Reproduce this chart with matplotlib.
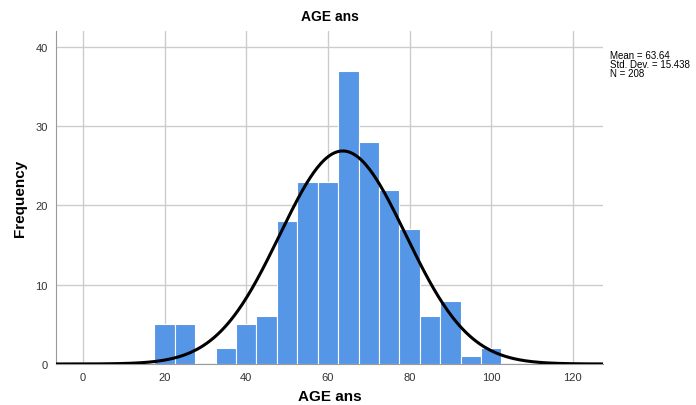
import numpy as np
import matplotlib.pyplot as plt

# histogram of AGE ans (bin width 5)
bin_edges = np.arange(17.5, 103, 5)
counts = [5, 5, 0, 2, 5, 6, 18, 23, 23, 37, 28, 22, 17, 6, 8, 1, 2]
mean = 63.64
std = 15.438
n = 208

plt.rc('font', family='Liberation Sans')

fig = plt.figure(figsize=(6.96, 4.06), dpi=100)
ax = fig.add_axes([0.0805, 0.101, 0.786, 0.82])

ax.bar(bin_edges[:-1], counts, width=5, align='edge', color='#5596e6',
       edgecolor='white', linewidth=0.8, zorder=2)

xs = np.linspace(-10, 130, 500)
pdf = n * 5 * np.exp(-0.5 * ((xs - mean) / std) ** 2) / (std * np.sqrt(2 * np.pi))
ax.plot(xs, pdf, color='black', linewidth=2.2, zorder=3)

ax.set_xlim(-6.6, 127.4)
ax.set_ylim(0, 42)
ax.set_xticks(np.arange(0, 121, 20))
ax.set_yticks(np.arange(0, 41, 10))
ax.grid(True, color='#cccccc', linewidth=1, zorder=0)
ax.set_axisbelow(True)
for s in ['top', 'right']:
    ax.spines[s].set_visible(False)
ax.spines['left'].set_color('#999999')
ax.spines['bottom'].set_color('#999999')
ax.tick_params(length=0, labelsize=8, colors='#333333', pad=6)

ax.set_title('AGE ans', fontsize=10, fontweight='bold', pad=8)
ax.set_xlabel('AGE ans', fontsize=11, fontweight='bold', labelpad=5)
ax.set_ylabel('Frequency', fontsize=11, fontweight='bold', labelpad=6)

fig.text(0.876, 0.875, 'Mean = 63.64\nStd. Dev. = 15.438\nN = 208',
         fontsize=7, va='top', ha='left', linespacing=0.9)

plt.savefig('out.png')
